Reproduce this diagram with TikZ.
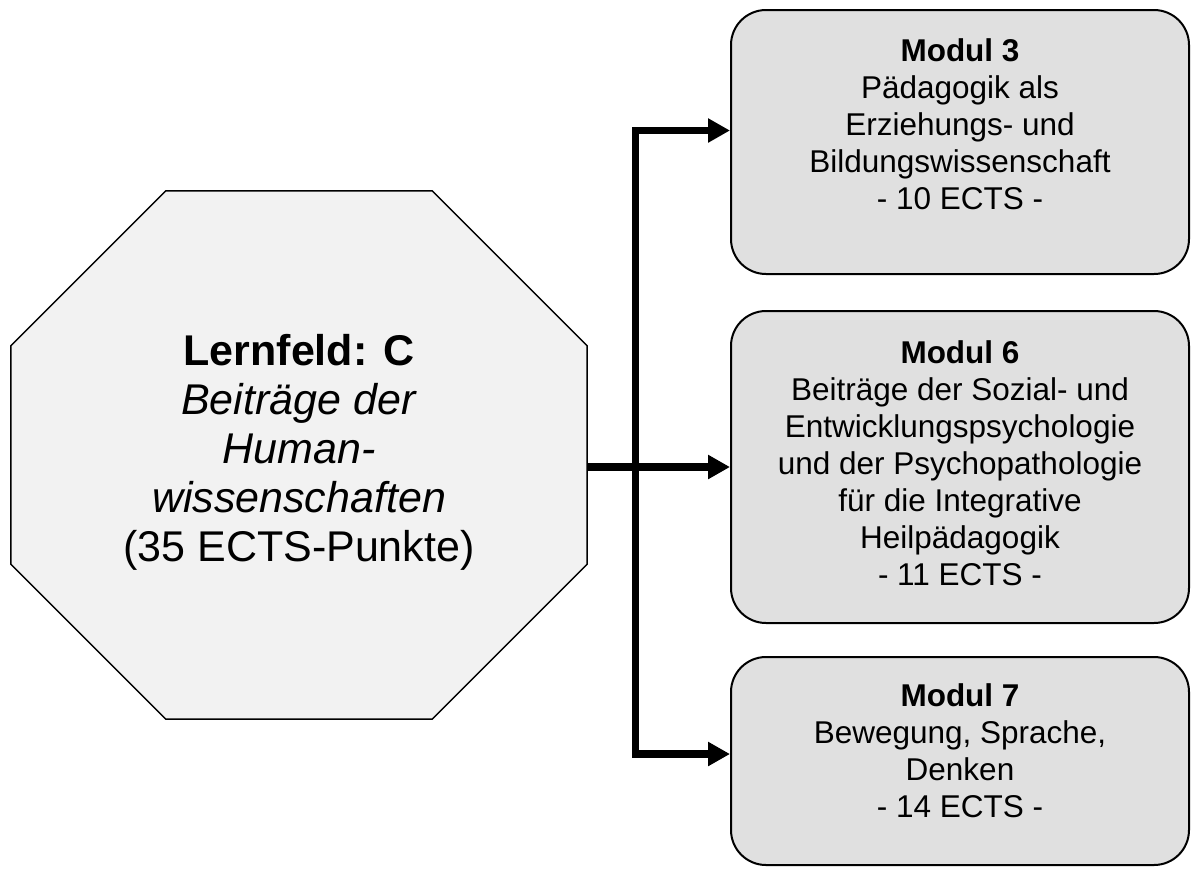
\documentclass[tikz,border=0pt]{standalone}
\usepackage{fontspec}
\setmainfont{Liberation Sans}
\usetikzlibrary{arrows.meta,calc}
\definecolor{octgray}{RGB}{242,242,242}
\definecolor{boxgray}{RGB}{224,224,224}
\begin{document}
\begin{tikzpicture}[x=1pt,y=-1pt,
  octframe/.style={minimum width=576pt,minimum height=528pt,inner sep=0pt},
  octtext/.style={align=center,inner sep=0pt,font=\fontsize{43}{49}\selectfont},
  modbox/.style={draw=black,line width=2pt,fill=boxgray,rounded corners=35pt,minimum width=458pt,inner sep=0pt},
  modtext/.style={align=center,inner sep=0pt,font=\fontsize{31.5}{37}\selectfont},
  conn/.style={line width=7.5pt,-{Triangle[length=22pt,width=23pt]}},
  fork/.style={line width=7.5pt,{Triangle[length=22pt,width=23pt]}-{Triangle[length=22pt,width=23pt]}},
]
\useasboundingbox (0,0) rectangle (1192,868);
% octagon
\node[octframe] (oct) at (299,455) {};
\draw[line width=1.5pt,fill=octgray]
  ($(oct.north west)+(155,0)$) -- ($(oct.north east)+(-155,0)$) --
  ($(oct.north east)+(0,155)$) -- ($(oct.south east)+(0,-155)$) --
  ($(oct.south east)+(-155,0)$) -- ($(oct.south west)+(155,0)$) --
  ($(oct.south west)+(0,-155)$) -- ($(oct.north west)+(0,155)$) -- cycle;
\node[octtext] (octt) at (299,452) {\textbf{Lernfeld: C}\\\textit{Beiträge der}\\\textit{Human-}\\\textit{wissenschaften}\\(35 ECTS-Punkte)};
% module boxes
\node[modbox,minimum height=264pt] (m3) at (960,142) {};
\node[modtext] (m3t) at (960,124.5) {\textbf{Modul 3}\\Pädagogik als\\Erziehungs- und\\Bildungswissenschaft\\- 10 ECTS -};
\node[modbox,minimum height=312pt] (m6) at (960,467) {};
\node[modtext] (m6t) at (960,463) {\textbf{Modul 6}\\Beiträge der Sozial- und\\Entwicklungspsychologie\\und der Psychopathologie\\für die Integrative\\Heilpädagogik\\- 11 ECTS -};
\node[modbox,minimum height=208pt] (m7) at (960,761) {};
\node[modtext] (m7t) at (960,751) {\textbf{Modul 7}\\Bewegung, Sprache,\\Denken\\- 14 ECTS -};
% connectors
\coordinate (spT) at (635.5,130.5);
\coordinate (spB) at (635.5,754);
\draw[fork] (spT -| m3.west) -- (spT) -- (spB) -- (spB -| m7.west);
\draw[conn] (oct.east |- m6.west) -- (m6.west);
\end{tikzpicture}
\end{document}
